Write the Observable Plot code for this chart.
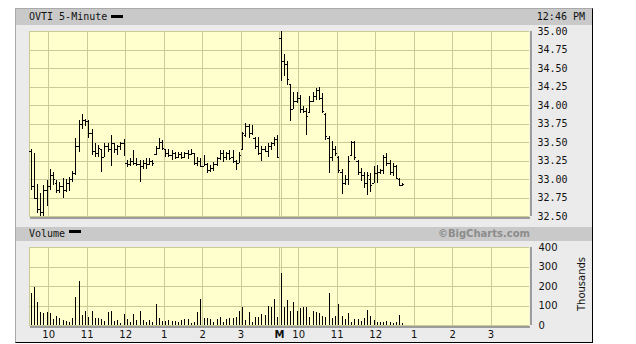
<!DOCTYPE html>
<html>
<head>
<meta charset="utf-8">
<script src="https://cdn.jsdelivr.net/npm/d3@7"></script>
<script src="https://cdn.jsdelivr.net/npm/@observablehq/plot@0.6"></script>
<style>
  html, body { margin: 0; padding: 0; background: #fff; }
  #chart { position: relative; width: 636px; height: 344px; overflow: hidden; }
  .abs { position: absolute; }
  #frame { left: 15px; top: 8px; width: 576px; height: 333px; background: #ebebeb;
           border-left: 1px solid #a9a9a9; border-top: 1px solid #a9a9a9;
           border-right: 1px solid #000; border-bottom: 1px solid #000; }
  .hdr { left: 16px; width: 576px; background: #c9c9c9; }
  .mono { font-family: "DejaVu Sans Mono", monospace; font-size: 10px; color: #111; white-space: nowrap; }
  .key { background: #000; width: 12px; height: 3px; }
  .copy { font-family: "DejaVu Sans", sans-serif; font-weight: bold; font-size: 10px; color: #8c8c8c; white-space: nowrap; }
  .thous { font-family: "DejaVu Sans", sans-serif; font-size: 10px; color: #111; white-space: nowrap;
           transform: translate(-50%, -50%) rotate(-90deg); }
</style>
</head>
<body>
<div id="chart">
  <div id="frame" class="abs"></div>
  <div class="abs hdr" style="top:9px;height:16px;"></div>
  <div class="abs mono" style="left:29px;top:9px;line-height:16px;">OVTI 5-Minute</div>
  <div class="abs key" style="left:111px;top:15px;"></div>
  <div class="abs mono" style="right:51px;top:9px;line-height:16px;">12:46 PM</div>
  <div id="price" class="abs" style="left:0;top:25px;"></div>
  <div class="abs hdr" style="top:227px;height:14px;"></div>
  <div class="abs mono" style="left:29px;top:227px;line-height:14px;">Volume</div>
  <div class="abs key" style="left:69px;top:230px;"></div>
  <div class="abs copy" style="right:106px;top:227px;line-height:14px;">©BigCharts.com</div>
  <div id="volume" class="abs" style="left:0;top:241px;"></div>
  <div class="abs thous" style="left:581px;top:284px;">Thousands</div>
</div>
<script>
// ---- data ----
const priceTicks = [32.5, 32.75, 33, 33.25, 33.5, 33.75, 34, 34.25, 34.5, 34.75, 35];
const volumeTicks = [0, 100, 200, 300, 400];
// bar-slot positions (5-minute slots from 9:30 of day 1; 78 slots per session)
const hourTicks = [6, 18, 30, 42, 54, 66, 78, 84, 96, 108, 120, 132, 144];
const hourLabels = ["10", "11", "12", "1", "2", "3", "M", "10", "11", "12", "1", "2", "3"];
const slotsPerDay = 78;

const day1High = [33.40,33.35,32.93,32.81,32.92,32.99,33.14,33.09,32.99,32.96,
  33.01,33.00,33.03,33.11,33.55,33.80,33.88,33.81,33.80,33.68,
  33.48,33.46,33.41,33.48,33.48,33.59,33.48,33.46,33.50,33.54,
  33.26,33.28,33.39,33.28,33.26,33.26,33.28,33.28,33.26,33.44,
  33.55,33.53,33.41,33.40,33.39,33.37,33.37,33.36,33.37,33.39,
  33.41,33.35,33.30,33.28,33.32,33.21,33.19,33.23,33.30,33.39,
  33.39,33.37,33.39,33.39,33.26,33.37,33.64,33.76,33.75,33.73,
  33.57,33.57,33.44,33.44,33.48,33.50,33.57,33.59];
const day1Low = [32.85,32.73,32.54,32.50,32.50,32.63,32.85,32.92,32.81,32.81,
  32.75,32.83,32.84,32.96,33.05,33.37,33.68,33.72,33.56,33.32,
  33.30,33.30,33.10,33.30,33.36,33.18,33.35,33.32,33.39,33.31,
  33.16,33.17,33.19,33.17,32.96,33.14,33.14,33.19,33.17,33.32,
  33.41,33.39,33.30,33.30,33.26,33.27,33.29,33.27,33.28,33.27,
  33.32,33.19,33.17,33.16,33.18,33.08,33.09,33.11,33.17,33.26,
  33.23,33.26,33.26,33.21,33.12,33.21,33.39,33.57,33.55,33.59,
  33.41,33.32,33.25,33.37,33.30,33.39,33.44,33.28];
const day1Open = [33.38,32.90,32.75,32.60,32.55,32.85,32.90,33.05,32.95,32.85,
  32.90,32.85,32.95,33.00,33.08,33.45,33.75,33.80,33.78,33.62,
  33.38,33.35,33.40,33.30,33.45,33.40,33.48,33.40,33.45,33.48,
  33.22,33.20,33.25,33.22,33.20,33.18,33.22,33.20,33.25,33.34,
  33.42,33.50,33.40,33.35,33.32,33.35,33.30,33.34,33.30,33.35,
  33.34,33.35,33.22,33.25,33.18,33.20,33.12,33.15,33.20,33.28,
  33.35,33.30,33.35,33.30,33.24,33.22,33.40,33.60,33.72,33.62,
  33.55,33.44,33.35,33.40,33.38,33.44,33.48,33.54];
const day1Close = [32.88,32.75,32.60,32.55,32.85,32.70,33.05,33.00,32.85,32.90,
  32.80,32.95,33.00,33.08,33.45,33.75,33.82,33.78,33.62,33.38,
  33.35,33.42,33.30,33.45,33.40,33.48,33.40,33.45,33.48,33.32,
  33.20,33.25,33.22,33.20,33.18,33.22,33.20,33.25,33.22,33.42,
  33.52,33.42,33.35,33.32,33.35,33.30,33.34,33.30,33.35,33.33,
  33.38,33.22,33.25,33.18,33.28,33.12,33.15,33.20,33.28,33.35,
  33.30,33.35,33.28,33.24,33.15,33.32,33.62,33.72,33.62,33.66,
  33.44,33.35,33.40,33.38,33.45,33.48,33.54,33.30];
const day1Volume = [164,197,119,66,62,66,59,31,47,36,
  26,21,16,34,145,228,52,72,40,72,
  34,34,31,21,66,72,21,26,12,57,
  31,16,57,24,72,26,14,24,17,109,
  36,21,21,26,21,21,17,26,29,29,
  12,17,66,134,34,34,29,14,29,40,
  14,29,36,38,40,72,93,26,66,17,
  41,41,57,52,100,93,134,41];

const day2High = [35.00,34.69,34.59,34.28,34.18,34.18,34.14,33.99,33.96,34.12,
  34.18,34.23,34.24,34.16,33.89,33.58,33.51,33.44,33.31,33.13,
  33.06,33.31,33.52,33.51,33.26,33.15,33.10,33.10,33.08,33.17,
  33.19,33.13,33.33,33.35,33.26,33.22,33.19,33.01,32.95];
const day2Low = [34.33,34.39,34.27,33.78,33.94,34.03,33.89,33.89,33.59,33.89,
  34.04,34.07,34.07,33.89,33.53,33.08,33.24,33.31,33.08,32.80,
  32.92,32.92,33.31,33.26,33.06,32.97,32.88,32.79,32.83,32.95,
  32.95,33.07,33.07,33.18,33.06,33.04,33.00,32.91,32.90];
const day2Open = [34.90,34.60,34.55,34.28,33.95,34.05,34.10,33.95,33.92,33.90,
  34.05,34.12,34.20,34.10,33.88,33.55,33.30,33.40,33.30,33.10,
  32.95,33.00,33.32,33.50,33.25,33.10,33.05,32.95,33.00,32.95,
  33.08,33.10,33.12,33.30,33.22,33.10,33.18,33.00,32.92];
const day2Close = [34.60,34.62,34.35,33.95,34.05,34.15,33.95,33.92,33.85,34.05,
  34.15,34.20,34.10,33.92,33.58,33.15,33.48,33.35,33.12,32.90,
  33.00,33.25,33.50,33.30,33.12,33.05,32.95,33.05,32.92,33.10,
  33.12,33.12,33.30,33.22,33.10,33.20,33.02,32.92,32.93];
const day2Volume = [267,90,128,72,119,74,86,90,93,40,
  72,69,60,48,43,164,34,48,109,48,
  29,60,17,31,29,21,38,78,48,26,
  17,17,17,21,14,12,17,52,12];

// ---- build rows ----
function rowsFor(day, high, low, open, close, vol) {
  return high.map((h, i) => ({
    x: day * slotsPerDay + i + 0.5,
    high: h, low: low[i], open: open[i], close: close[i], volume: vol[i]
  }));
}
const bars = [
  ...rowsFor(0, day1High, day1Low, day1Open, day1Close, day1Volume),
  ...rowsFor(1, day2High, day2Low, day2Open, day2Close, day2Volume)
];

const grid = "#cbcb96";
const shadow = "#9c9c9c";
const xDomain = [0, 2 * slotsPerDay];

// checkerboard dither like the original panel background
function addDither(svg, id) {
  const defs = d3.select(svg).insert("defs", ":first-child");
  const p = defs.append("pattern").attr("id", id).attr("patternUnits", "userSpaceOnUse")
    .attr("width", 2).attr("height", 2);
  p.append("rect").attr("width", 2).attr("height", 2).attr("fill", "#ffffff");
  p.append("rect").attr("width", 1).attr("height", 1).attr("fill", "#ffff9c");
  p.append("rect").attr("x", 1).attr("y", 1).attr("width", 1).attr("height", 1).attr("fill", "#ffff9c");
}

const common = { width: 636, marginLeft: 29, marginRight: 107 };

const price = Plot.plot({
  ...common,
  height: 202, marginTop: 6, marginBottom: 11,
  style: { background: "transparent", fontFamily: "'DejaVu Sans Mono', monospace", fontSize: "10px", color: "#111", overflow: "visible" },
  x: { domain: xDomain, axis: null },
  y: { domain: [32.5, 35], axis: "right", ticks: priceTicks, tickFormat: d3.format(".2f"), tickSize: 0, tickPadding: 8, label: null },
  marks: [
    Plot.frame({ fill: "url(#ditherP)", stroke: null }),
    Plot.ruleY(priceTicks, { stroke: grid, shapeRendering: "crispEdges" }),
    Plot.ruleX([0, ...hourTicks], { stroke: grid, shapeRendering: "crispEdges" }),
    Plot.ruleX([slotsPerDay], { stroke: grid, dx: 2, shapeRendering: "crispEdges" }),
    Plot.ruleX([xDomain[1]], { stroke: shadow, strokeWidth: 2, dx: 1, shapeRendering: "crispEdges" }),
    Plot.ruleY([32.5], { stroke: shadow, strokeWidth: 2, dy: 1, x1: xDomain[0], x2: xDomain[1], dx: 1, shapeRendering: "crispEdges" }),
    Plot.ruleX(bars, { x: "x", y1: "low", y2: "high", stroke: "#000", shapeRendering: "crispEdges" }),
    Plot.ruleY(bars, { x1: d => d.x - 0.5, x2: "x", y: "open", stroke: "#000", shapeRendering: "crispEdges" }),
    Plot.ruleY(bars, { x1: "x", x2: d => d.x + 0.5, y: "close", stroke: "#000", shapeRendering: "crispEdges" })
  ]
});
addDither(price, "ditherP");
document.getElementById("price").appendChild(price);

const volume = Plot.plot({
  ...common,
  height: 100, marginTop: 6, marginBottom: 16,
  style: { background: "transparent", fontFamily: "'DejaVu Sans', sans-serif", fontSize: "10px", color: "#111", overflow: "visible" },
  x: { domain: xDomain, ticks: hourTicks, tickFormat: d => hourLabels[hourTicks.indexOf(d)], tickSize: 0, tickPadding: 5, label: null },
  y: { domain: [0, 400], axis: "right", ticks: volumeTicks, tickSize: 0, tickPadding: 9, label: null },
  marks: [
    Plot.frame({ fill: "url(#ditherV)", stroke: null }),
    Plot.ruleY(volumeTicks, { stroke: grid, shapeRendering: "crispEdges" }),
    Plot.ruleX([0, ...hourTicks], { stroke: grid, shapeRendering: "crispEdges" }),
    Plot.ruleX([slotsPerDay], { stroke: grid, dx: 2, shapeRendering: "crispEdges" }),
    Plot.ruleX([xDomain[1]], { stroke: shadow, strokeWidth: 2, dx: 1, shapeRendering: "crispEdges" }),
    Plot.ruleY([0], { stroke: shadow, strokeWidth: 2, dy: 1, x1: xDomain[0], x2: xDomain[1], dx: 1, shapeRendering: "crispEdges" }),
    Plot.ruleX(bars, { x: "x", y1: 0, y2: "volume", stroke: "#000", shapeRendering: "crispEdges" })
  ]
});
addDither(volume, "ditherV");
d3.select(volume).selectAll("text").filter(function () { return this.textContent === "M"; })
  .attr("font-weight", "bold");
document.getElementById("volume").appendChild(volume);
</script>
</body>
</html>
